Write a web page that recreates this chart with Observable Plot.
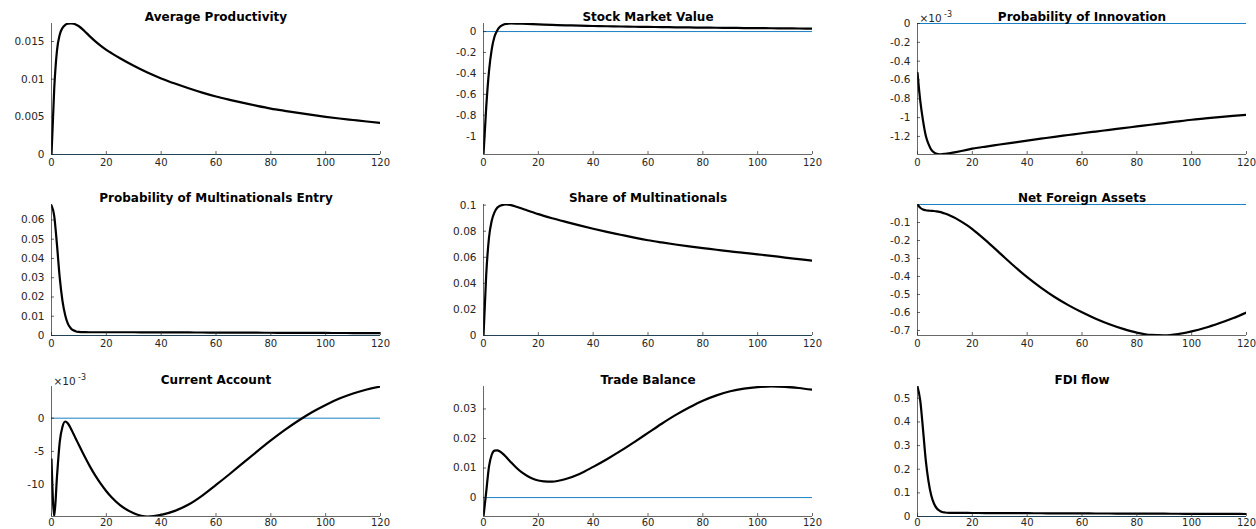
<!DOCTYPE html>
<html>
<head>
<meta charset="utf-8">
<script src="https://cdn.jsdelivr.net/npm/d3@7"></script>
<script src="https://cdn.jsdelivr.net/npm/@observablehq/plot@0.6"></script>
<style>
  html, body { margin: 0; padding: 0; background: #fff; }
  #wrap { position: relative; width: 1256px; height: 529px; overflow: hidden; background: #fff; }
  #wrap svg { position: absolute; overflow: visible; }
</style>
</head>
<body>
<div id="wrap"></div>
<script>
// ---- data ----
const periods = [0,1,2,3,4,5,6,7,8,9,10,12,14,16,18,20,22,25,30,35,40,45,50,55,60,65,70,75,80,85,90,95,100,105,110,115,120];

const avgProductivity = [0,0.0088,0.0138,0.0159,0.0168,0.0172,0.01737,0.0174,0.01736,0.01722,0.01702,0.0164,0.01568,0.01502,0.01443,0.0139,0.01343,0.01278,0.01178,0.01088,0.0101,0.00942,0.0088,0.00822,0.0077,0.00726,0.00685,0.00646,0.0061,0.0058,0.00552,0.00525,0.005,0.00478,0.00458,0.00438,0.0042];

const stockMarketValue = [-1.175,-0.72,-0.38,-0.17,-0.05,0.01,0.045,0.063,0.072,0.076,0.077,0.0764,0.0748,0.0728,0.0705,0.0683,0.0664,0.0638,0.0598,0.0563,0.0533,0.0506,0.0482,0.0461,0.0442,0.0424,0.0407,0.0391,0.0376,0.0362,0.0349,0.0337,0.0325,0.0314,0.0303,0.0293,0.0283];

// shown in units of 10^-3
const probInnovation = [-0.525,-0.82,-1.03,-1.19,-1.28,-1.34,-1.37,-1.385,-1.39,-1.388,-1.384,-1.376,-1.366,-1.355,-1.343,-1.33,-1.32,-1.308,-1.286,-1.265,-1.244,-1.224,-1.204,-1.185,-1.166,-1.148,-1.13,-1.112,-1.094,-1.076,-1.058,-1.04,-1.023,-1.009,-0.995,-0.982,-0.97];

const probMultinationalsEntry = [0.0675,0.062,0.047,0.030,0.018,0.0105,0.006,0.0038,0.0027,0.0021,0.0019,0.00175,0.0017,0.0017,0.0017,0.0017,0.0017,0.0017,0.00168,0.00166,0.00164,0.0016,0.00158,0.00155,0.00152,0.0015,0.00147,0.00145,0.00142,0.0014,0.00137,0.00135,0.00132,0.0013,0.00128,0.00125,0.00122];

const shareMultinationals = [0,0.047,0.075,0.088,0.0945,0.098,0.0995,0.1002,0.1005,0.1004,0.1,0.0988,0.0974,0.0959,0.0945,0.0931,0.0918,0.0900,0.0872,0.0845,0.0819,0.0795,0.0773,0.0751,0.0731,0.0714,0.0698,0.0684,0.0671,0.0658,0.0645,0.0634,0.0623,0.0611,0.0598,0.0586,0.0574];

const netForeignAssets = [0,-0.018,-0.028,-0.032,-0.034,-0.035,-0.036,-0.038,-0.041,-0.045,-0.05,-0.062,-0.077,-0.095,-0.115,-0.137,-0.162,-0.201,-0.27,-0.339,-0.404,-0.462,-0.514,-0.559,-0.599,-0.6345,-0.665,-0.691,-0.712,-0.725,-0.727,-0.72,-0.705,-0.685,-0.66,-0.632,-0.6];

// shown in units of 10^-3
const currentAccount = [-6.2,-14.8,-8.8,-3.6,-1.3,-0.5,-0.8,-1.5,-2.35,-3.2,-4.05,-5.7,-7.25,-8.65,-9.9,-11.0,-11.95,-13.1,-14.3,-14.8,-14.55,-13.95,-13.0,-11.65,-10.05,-8.4,-6.7,-5.0,-3.35,-1.8,-0.38,0.9,2.0,2.95,3.72,4.32,4.77];

const tradeBalance = [-0.0064,0.002,0.0105,0.0145,0.0159,0.016,0.0156,0.0149,0.014,0.013,0.012,0.0101,0.0085,0.0073,0.0064,0.0058,0.0055,0.0054,0.0063,0.008,0.0104,0.013,0.0158,0.0188,0.0219,0.025,0.0279,0.0305,0.0328,0.0346,0.036,0.0369,0.0374,0.0376,0.0375,0.0371,0.0365];

const fdiFlow = [0.55,0.49,0.37,0.24,0.15,0.09,0.055,0.035,0.025,0.019,0.017,0.0155,0.015,0.015,0.015,0.0148,0.0147,0.0145,0.0143,0.0141,0.0139,0.0137,0.0135,0.0133,0.013,0.0128,0.0126,0.0124,0.0122,0.012,0.0118,0.0116,0.0114,0.0112,0.011,0.0108,0.0106];

const titles = ["Average Productivity","Stock Market Value","Probability of Innovation",
  "Probability of Multinationals Entry","Share of Multinationals","Net Foreign Assets",
  "Current Account","Trade Balance","FDI flow"];

const xTicks = [0,20,40,60,80,100,120];

const yTicksList = [
  [0,0.005,0.01,0.015],
  [-1,-0.8,-0.6,-0.4,-0.2,0],
  [-1.2,-1,-0.8,-0.6,-0.4,-0.2,0],
  [0,0.01,0.02,0.03,0.04,0.05,0.06],
  [0,0.02,0.04,0.06,0.08,0.1],
  [-0.7,-0.6,-0.5,-0.4,-0.3,-0.2,-0.1],
  [-10,-5,0],
  [0,0.01,0.02,0.03],
  [0,0.1,0.2,0.3,0.4,0.5]
];
const yLabelsList = [
  ["0","0.005","0.01","0.015"],
  ["-1","-0.8","-0.6","-0.4","-0.2","0"],
  ["-1.2","-1","-0.8","-0.6","-0.4","-0.2","0"],
  ["0","0.01","0.02","0.03","0.04","0.05","0.06"],
  ["0","0.02","0.04","0.06","0.08","0.1"],
  ["-0.7","-0.6","-0.5","-0.4","-0.3","-0.2","-0.1"],
  ["-10","-5","0"],
  ["0","0.01","0.02","0.03"],
  ["0","0.1","0.2","0.3","0.4","0.5"]
];
const yDomains = [
  [0,0.01739],[-1.175,0.077],[-1.392,0],
  [0,0.068],[0,0.1005],[-0.728,0],
  [-14.8,4.77],[-0.0064,0.0376],[0,0.55]
];
const exponentLabels = [null,null,"-3",null,null,null,"-3",null,null];

const seriesList = [avgProductivity,stockMarketValue,probInnovation,probMultinationalsEntry,
  shareMultinationals,netForeignAssets,currentAccount,tradeBalance,fdiFlow];

// ---- layout ----
const colLeft = [51, 483, 917];
const rowTop = [23, 204, 385.5];
const plotW = 329;
const plotHs = [131, 131, 130];
const mL = 52, mR = 12, mT = 26, mB = 20;
const axisColor = "#262626";

const wrap = document.getElementById("wrap");

seriesList.forEach((values, k) => {
  const r = Math.floor(k / 3), c = k % 3;
  const plotH = plotHs[r];
  const data = periods.map((t, i) => ({t, v: values[i]}));
  const yTicks = yTicksList[k];
  const yLabels = yLabelsList[k];
  const dom = yDomains[k];
  const marks = [
    Plot.ruleY([0], {stroke: "#0072BD", strokeWidth: 0.9}),
    Plot.line(data, {x: "t", y: "v", stroke: "#000", strokeWidth: 2.2, curve: "monotone-x", clip: true}),
    Plot.ruleX([0], {stroke: axisColor, strokeWidth: 0.7}),
    Plot.ruleY([dom[0]], {stroke: axisColor, strokeWidth: 0.7}),
    Plot.tickX(xTicks, {x: d => d, insetTop: plotH - 3, stroke: axisColor, strokeWidth: 0.7}),
    Plot.tickY(yTicks, {y: d => d, insetRight: plotW - 3, stroke: axisColor, strokeWidth: 0.7}),
    Plot.axisX(xTicks, {tickSize: 0, tickPadding: r === 2 ? 2 : 4, label: null, fill: axisColor,
      fontSize: 10, letterSpacing: 0.5}),
    Plot.axisY(yTicks, {tickSize: 0, tickPadding: 7, label: null, fill: axisColor,
      fontSize: 10.5, letterSpacing: 0.4,
      tickFormat: d => yLabels[yTicks.indexOf(d)]}),
    Plot.text([titles[k]], {frameAnchor: "top", dy: -3, lineAnchor: "bottom",
      fontWeight: "bold", fontSize: 12, fill: "#000"})
  ];
  if (exponentLabels[k]) {
    marks.push(Plot.text(["\u00d710"], {frameAnchor: "top-left", dx: 2, dy: -1.5, lineAnchor: "bottom",
      textAnchor: "start", fontSize: 10.5, fill: axisColor}));
    marks.push(Plot.text([exponentLabels[k]], {frameAnchor: "top-left", dx: 26.5, dy: -6.5, lineAnchor: "bottom",
      textAnchor: "start", fontSize: 8, fill: axisColor}));
  }
  const svg = Plot.plot({
    width: mL + plotW + mR,
    height: mT + plotH + mB,
    marginLeft: mL, marginRight: mR, marginTop: mT, marginBottom: mB,
    style: {fontFamily: "'DejaVu Sans', sans-serif", fontSize: "10px", background: "transparent", overflow: "visible"},
    x: {domain: [0, 120], label: null},
    y: {domain: dom, label: null},
    marks
  });
  svg.style.left = (colLeft[c] - mL) + "px";
  svg.style.top = (rowTop[r] - mT) + "px";
  wrap.appendChild(svg);
});
</script>
</body>
</html>
